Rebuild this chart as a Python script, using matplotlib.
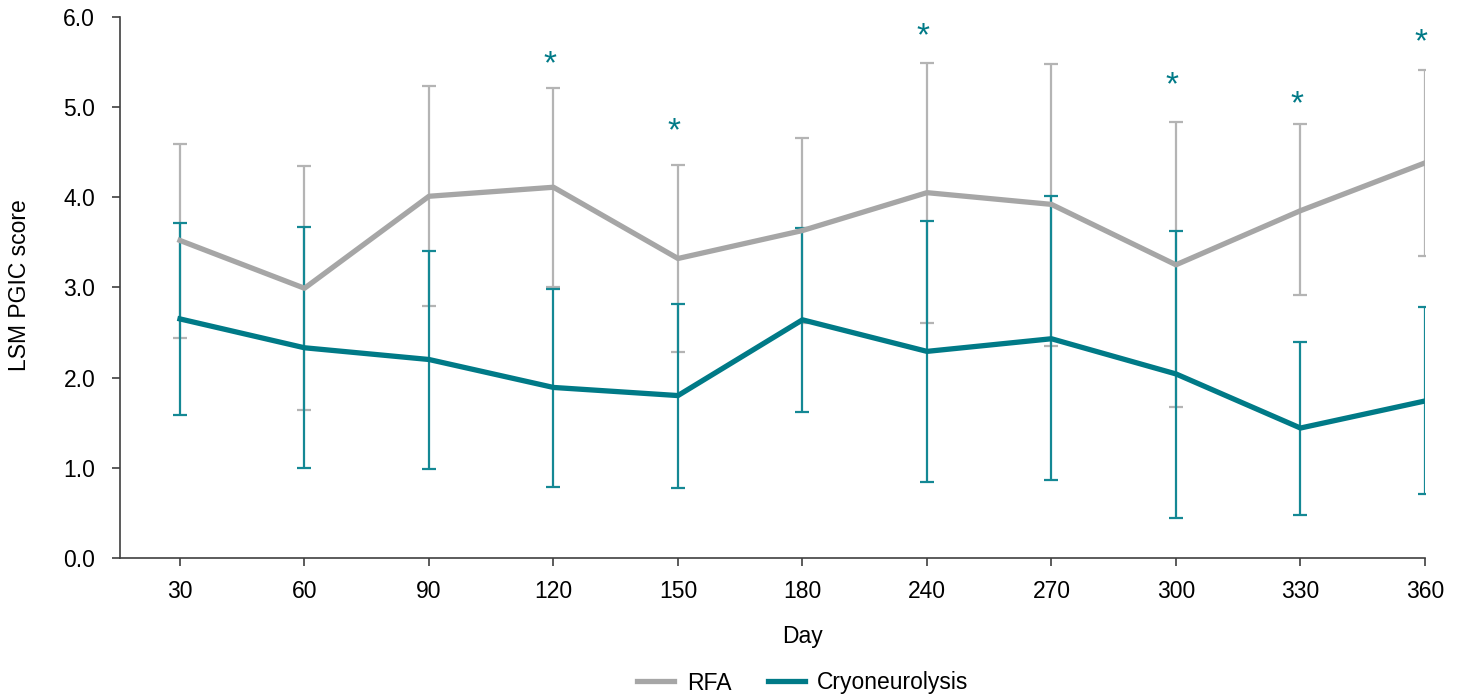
import numpy as np
import matplotlib.pyplot as plt

plt.rcParams['font.family'] = ['Liberation Sans', 'DejaVu Sans']

days = ['30', '60', '90', '120', '150', '180', '240', '270', '300', '330', '360']

rfa_mean = [3.52, 2.99, 4.01, 4.11, 3.32, 3.63, 4.05, 3.92, 3.25, 3.85, 4.38]
rfa_upper = [4.59, 4.35, 5.23, 5.21, 4.36, 4.66, 5.49, 5.48, 4.83, 4.81, 5.41]
rfa_lower = [2.44, 1.64, 2.79, 3.00, 2.28, 2.60, 2.61, 2.35, 1.67, 2.92, 3.35]

cryo_mean = [2.65, 2.33, 2.20, 1.89, 1.80, 2.64, 2.29, 2.43, 2.04, 1.44, 1.74]
cryo_upper = [3.71, 3.67, 3.40, 2.98, 2.82, 3.66, 3.74, 4.01, 3.62, 2.39, 2.78]
cryo_lower = [1.59, 1.00, 0.99, 0.79, 0.77, 1.62, 0.84, 0.86, 0.44, 0.48, 0.71]

# significance markers (day, height)
star_days = ['120', '150', '240', '300', '330', '360']
star_y = [5.47, 4.73, 5.78, 5.23, 5.03, 5.71]

gray = '#A6A6A6'
gray_err = '#B4B4B4'
teal = '#007A87'
teal_err = '#148894'
fs = 16.5

x = np.arange(len(days))
rfa_mean = np.array(rfa_mean)
cryo_mean = np.array(cryo_mean)

fig = plt.figure(figsize=(14.66, 7), dpi=100)
ax = fig.add_axes([0.082, 0.203, 0.890, 0.773])

ax.errorbar(x, rfa_mean, yerr=[rfa_mean - np.array(rfa_lower), np.array(rfa_upper) - rfa_mean],
            fmt='none', ecolor=gray_err, elinewidth=1.6, capsize=4.7, capthick=1.6, zorder=2)
ax.errorbar(x, cryo_mean, yerr=[cryo_mean - np.array(cryo_lower), np.array(cryo_upper) - cryo_mean],
            fmt='none', ecolor=teal_err, elinewidth=1.6, capsize=4.7, capthick=1.6, zorder=3)
ax.plot(x, rfa_mean, color=gray, lw=3.8, label='RFA', zorder=4, solid_joinstyle='round')
ax.plot(x, cryo_mean, color=teal, lw=3.8, label='Cryoneurolysis', zorder=5, solid_joinstyle='round')

for d, yv in zip(star_days, star_y):
    ax.text(days.index(d) - 0.03, yv, '*', color=teal, fontsize=24, ha='center', va='center')

ax.set_xlim(-0.48, 10)
ax.set_ylim(0, 6)
ax.set_xticks(x)
ax.set_xticklabels(days)
ax.set_yticks(np.arange(0, 6.1, 1.0))
ax.set_yticklabels([f'{v:.1f}' for v in np.arange(0, 6.1, 1.0)])
ax.tick_params(labelsize=fs, length=6, width=1.2, color='#404040', labelcolor='black')
ax.tick_params(axis='y', pad=12)
ax.tick_params(axis='x', pad=10)

for s in ['top', 'right']:
    ax.spines[s].set_visible(False)
for s in ['left', 'bottom']:
    ax.spines[s].set_color('#404040')
    ax.spines[s].set_linewidth(1.2)

fig.text(20 / 1466, 1 - 285 / 700, 'LSM PGIC score', rotation=90, fontsize=fs,
         ha='center', va='center')
fig.text(803 / 1466, 1 - 636 / 700, 'Day', fontsize=fs, ha='center', va='center')

handles, labels = ax.get_legend_handles_labels()
fig.legend(handles, labels, loc='center', bbox_to_anchor=(803 / 1466, 1 - 683 / 700), ncol=2,
           frameon=False, fontsize=fs, handlelength=1.6, handletextpad=0.55, columnspacing=1.6)

fig.savefig('out.png', dpi=100)
